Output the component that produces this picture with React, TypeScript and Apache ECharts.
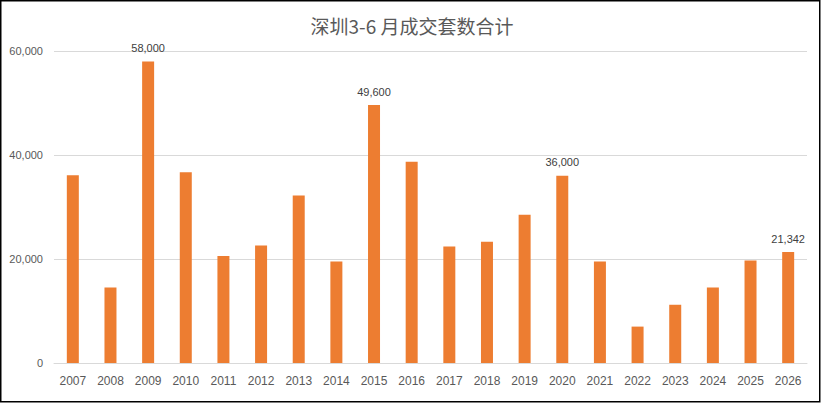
import React, { useEffect, useRef } from "react";
import * as echarts from "echarts";

const titleText = "深圳3-6 月成交套数合计";
const years = ["2007","2008","2009","2010","2011","2012","2013","2014","2015","2016","2017","2018","2019","2020","2021","2022","2023","2024","2025","2026"];
const values = [36100, 14500, 58000, 36700, 20600, 22600, 32200, 19500, 49600, 38700, 22400, 23300, 28500, 36000, 19500, 7000, 11200, 14500, 19700, 21342];
const labelledYears = ["2009", "2015", "2020", "2026"];
const yTicks = { min: 0, max: 60000, interval: 20000 };

export default function App() {
  const ref = useRef<HTMLDivElement>(null);
  useEffect(() => {
    if (!ref.current) return;
    const chart = echarts.init(ref.current, undefined, { renderer: "svg" });
    const fmt = (v: number) => v.toLocaleString("en-US");
    chart.setOption({
      animation: false,
      backgroundColor: "#ffffff",
      title: {
        text: titleText,
        left: "center",
        top: 11,
        textStyle: { fontSize: 19, fontWeight: "normal", color: "#595959", fontFamily: "Noto Sans CJK SC" },
      },
      grid: { left: 54, right: 17, top: 51, bottom: 41, containLabel: false },
      xAxis: {
        type: "category",
        data: years,
        axisLine: { show: true, lineStyle: { color: "#d9d9d9" } },
        axisTick: { show: false },
        axisLabel: { color: "#595959", fontSize: 12, margin: 12, fontFamily: "Liberation Sans" },
      },
      yAxis: {
        type: "value",
        min: yTicks.min,
        max: yTicks.max,
        interval: yTicks.interval,
        axisLine: { show: false },
        axisTick: { show: false },
        splitLine: { lineStyle: { color: "#d9d9d9" } },
        axisLabel: { color: "#595959", fontSize: 11, margin: 11, fontFamily: "Liberation Sans", formatter: (v: number) => fmt(v) },
      },
      series: [
        {
          type: "bar",
          data: values.map((v, i) => ({
            value: v,
            label: {
              show: labelledYears.includes(years[i]),
              position: "top",
              distance: 8,
              color: "#404040",
              fontSize: 11,
              fontFamily: "Liberation Sans",
              formatter: (p: any) => fmt(p.value),
            },
          })),
          barWidth: 12,
          itemStyle: { color: "#ED7D31" },
        },
      ],
      graphic: [
        {
          type: "rect",
          shape: { x: 0.75, y: 0.75, width: 819, height: 401 },
          style: { fill: "none", stroke: "#000000", lineWidth: 1.5 },
          silent: true,
        },
      ],
    });
    return () => chart.dispose();
  }, []);
  return (
    <div style={{ position: "fixed", left: 0, top: 0, width: 824, height: 404, background: "#fff" }}>
      <div ref={ref} style={{ width: 824, height: 404 }} />
    </div>
  );
}
